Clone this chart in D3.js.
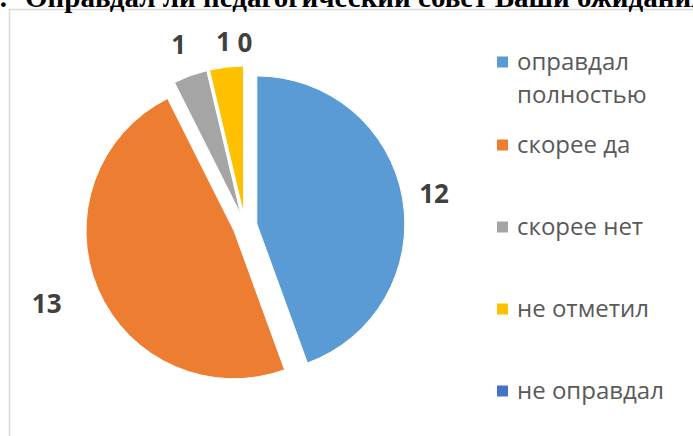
<!DOCTYPE html>
<html><head><meta charset="utf-8">
<script src="https://cdn.jsdelivr.net/npm/d3@7"></script>
<style>html,body{margin:0;padding:0;background:#fff;overflow:hidden}</style>
</head><body><svg id="c" width="693" height="436"></svg>
<script>
const titlePrefix = "2.";
const titleMain = "Оправдал ли педагогический совет Ваши ожидания?";
const categories = ["оправдал полностью", "скорее да", "скорее нет", "не отметил", "не оправдал"];
const legendLines = [["оправдал", "полностью"], ["скорее да"], ["скорее нет"], ["не отметил"], ["не оправдал"]];
const values = [12, 13, 1, 1, 0];
const colors = ["#5B9BD5", "#ED7D31", "#A5A5A5", "#FFC000", "#4472C4"];

const W = 693, H = 436;
const svg = d3.select("#c");
svg.append("rect").attr("x", 0).attr("y", 0).attr("width", W).attr("height", H).attr("fill", "#fff");
svg.append("rect").attr("x", 9.5).attr("y", 9.5).attr("width", W + 20).attr("height", H + 20)
  .attr("fill", "none").attr("stroke", "#d9d9d9").attr("stroke-width", 1.5);

// title (cropped at the top as in the reference)
const tt = svg.append("text").attr("y", 7)
  .attr("font-family", "Liberation Serif").attr("font-weight", "bold").attr("font-size", 29)
  .attr("fill", "#000");
const pre = tt.append("tspan").text(titlePrefix);
const preW = pre.node().getComputedTextLength();
pre.attr("x", 7 - preW);
tt.append("tspan").attr("x", 25).text(titleMain);

const cx = 245, cy = 226, R = 148, explode = 12;
const labelExtra = [32, 56, 34, 26, 24];
const labelNudge = [[0, 0], [0, -9], [0, 0], [0, 0], [0, 0]];
const pie = d3.pie().sort(null).value(d => d)(values);
const arc = d3.arc().innerRadius(0).outerRadius(R);
const g = svg.append("g").attr("transform", `translate(${cx},${cy})`);
pie.forEach((p, i) => {
  const mid = (p.startAngle + p.endAngle) / 2;
  const ox = Math.sin(mid) * explode, oy = -Math.cos(mid) * explode;
  if (p.endAngle > p.startAngle) {
    g.append("path").attr("d", arc(p)).attr("transform", `translate(${ox},${oy})`)
      .attr("fill", colors[i]).attr("stroke", "#fff").attr("stroke-width", 1);
  }
  const lr = R + labelExtra[i];
  g.append("text").attr("x", ox + Math.sin(mid) * lr + labelNudge[i][0])
    .attr("y", oy - Math.cos(mid) * lr + labelNudge[i][1])
    .attr("text-anchor", "middle").attr("dominant-baseline", "central")
    .attr("font-family", "Open Sans").attr("font-weight", "bold").attr("font-size", 26)
    .attr("fill", "#404040").text(values[i]);
});

const legY = [62, 145, 227, 309, 391];
const leg = svg.append("g");
categories.forEach((c, i) => {
  leg.append("rect").attr("x", 497).attr("y", legY[i] - 5.5).attr("width", 11).attr("height", 11).attr("fill", colors[i]);
  const t = leg.append("text").attr("x", 517).attr("y", legY[i] + 8)
    .attr("font-family", "Open Sans").attr("font-size", 24).attr("fill", "#595959");
  legendLines[i].forEach((ln, j) => {
    t.append("tspan").attr("x", 517).attr("dy", j === 0 ? 0 : 33).text(ln);
  });
});
</script></body></html>
